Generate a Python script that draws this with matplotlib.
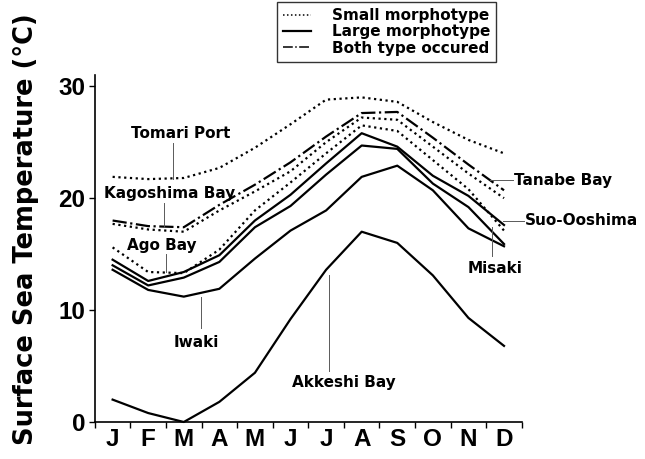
import matplotlib.pyplot as plt

plt.rcParams["font.family"] = ["Liberation Sans", "DejaVu Sans"]

months = ["J", "F", "M", "A", "M", "J", "J", "A", "S", "O", "N", "D"]
x = list(range(1, 13))

# small morphotype (dotted)
tomari = [21.9, 21.7, 21.8, 22.7, 24.5, 26.6, 28.8, 29.0, 28.6, 26.8, 25.2, 24.0]
tanabe_s = [17.7, 17.2, 17.0, 18.9, 20.6, 22.4, 25.0, 27.2, 27.0, 24.6, 22.2, 20.0]
ago = [15.6, 13.4, 13.3, 15.4, 18.9, 21.4, 24.0, 26.5, 26.0, 23.4, 20.8, 17.1]

# both types (dash-dot)
kagoshima = [18.0, 17.5, 17.4, 19.4, 21.2, 23.2, 25.5, 27.6, 27.7, 25.4, 23.0, 20.7]

# large morphotype (solid)
suo = [14.5, 12.6, 13.4, 14.9, 18.0, 20.3, 23.1, 25.8, 24.6, 22.0, 20.2, 17.6]
misaki = [14.0, 12.2, 12.9, 14.3, 17.4, 19.3, 22.1, 24.7, 24.4, 21.3, 19.2, 15.9]
iwaki = [13.6, 11.8, 11.2, 11.9, 14.6, 17.1, 18.9, 21.9, 22.9, 20.7, 17.3, 15.7]
akkeshi = [2.0, 0.8, 0.0, 1.8, 4.4, 9.2, 13.6, 17.0, 16.0, 13.1, 9.3, 6.8]

dot = (0, (1, 1.6))
wide = "DejaVu Sans"

fig = plt.figure(figsize=(6.45, 4.59), dpi=100)
ax = fig.add_axes([0.147, 0.0806, 0.662, 0.756])

for s in [tomari, tanabe_s, ago]:
    ax.plot(x, s, color="black", linestyle=dot, linewidth=1.6)
ax.plot(x, kagoshima, color="black", linestyle="-.", linewidth=1.6)
for s in [suo, misaki, iwaki, akkeshi]:
    ax.plot(x, s, color="black", linestyle="-", linewidth=1.6, clip_on=False)

ax.set_xlim(0.5, 12.5)
ax.set_ylim(0, 31)
ax.spines["top"].set_visible(False)
ax.spines["right"].set_visible(False)
ax.spines["left"].set_linewidth(1.2)
ax.spines["bottom"].set_linewidth(1.2)

ax.set_xticks(x)
ax.set_xticklabels(months, fontsize=17.5, fontweight="bold")
ax.set_xticks([i + 0.5 for i in range(0, 13)], minor=True)
ax.tick_params(axis="x", which="major", length=0, pad=4)
ax.tick_params(axis="x", which="minor", length=4, width=1, direction="out")
ax.set_yticks([0, 10, 20, 30])
ax.set_yticklabels(["0", "10", "20", "30"], fontsize=17.5, fontweight="bold")
ax.tick_params(axis="y", length=4, width=1, direction="out", pad=3)
ax.set_ylabel("Surface Sea Temperature (°C)", fontsize=18.5, fontweight="bold", family=wide)
ax.yaxis.set_label_coords(-0.13, 0.556)

# site labels with leader lines
lead = dict(color="0.35", linewidth=0.7)
tk = dict(fontsize=11, fontweight="bold", ha="center", va="center", family=wide)

ax.text(2.9, 25.8, "Tomari Port", **tk)
ax.plot([2.69, 2.69], [24.9, 21.75], **lead)
ax.text(2.61, 20.4, "Kagoshima Bay", **tk)
ax.plot([2.44, 2.44], [19.6, 17.4], **lead)
ax.text(2.38, 15.8, "Ago Bay", **tk)
ax.plot([2.50, 2.50], [15.0, 13.4], **lead)
ax.text(3.34, 7.1, "Iwaki", **tk)
ax.plot([3.48, 3.48], [11.2, 8.4], **lead)
ax.text(7.50, 3.5, "Akkeshi Bay", **tk)
ax.plot([7.08, 7.08], [13.1, 4.6], **lead)
ax.text(11.74, 13.75, "Misaki", **tk)
ax.plot([11.66, 11.66], [17.4, 14.8], **lead)
ax.text(12.28, 21.6, "Tanabe Bay", fontsize=11, fontweight="bold", ha="left", va="center", family=wide)
ax.plot([11.6, 12.25], [21.6, 21.6], clip_on=False, **lead)
ax.text(12.59, 18.0, "Suo-Ooshima", fontsize=11, fontweight="bold", ha="left", va="center", family=wide)
ax.plot([11.97, 12.55], [18.0, 18.0], clip_on=False, **lead)

h1, = ax.plot([], [], color="black", linestyle=dot, linewidth=1.1)
h2, = ax.plot([], [], color="black", linestyle="-", linewidth=1.6)
h3, = ax.plot([], [], color="black", linestyle="-.", linewidth=1.1)
leg = fig.legend([h1, h2, h3], ["Small morphotype", "Large morphotype", "Both type occured"],
                 loc="upper left", bbox_to_anchor=(277 / 645, 1 - 2 / 459),
                 bbox_transform=fig.transFigure, frameon=True, fancybox=False,
                 edgecolor="black", handlelength=1.8, handletextpad=1.4,
                 borderpad=0.4, borderaxespad=0, labelspacing=0.08,
                 prop={"size": 11, "weight": "bold", "family": wide})
leg.get_frame().set_linewidth(1.0)

plt.savefig("out.png", dpi=100)
